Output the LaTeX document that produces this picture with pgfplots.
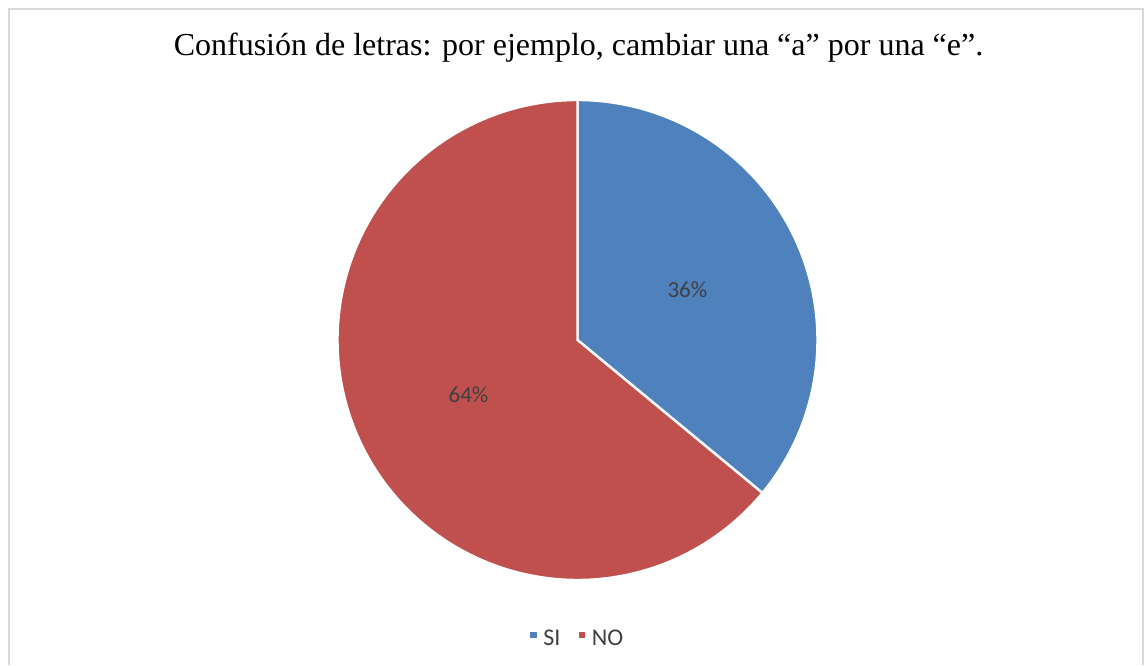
\documentclass[border=0pt]{standalone}
\usepackage{pgfplots}
\pgfplotsset{compat=1.18}
\usepackage{fontspec}
\setmainfont{Liberation Serif}
\newfontfamily\carlito{Carlito}
\definecolor{siblue}{HTML}{4F81BD}
\definecolor{nored}{HTML}{C0504D}
\definecolor{lbl}{HTML}{404040}
\definecolor{frame}{HTML}{D9D9D9}
\begin{document}
\begin{tikzpicture}[x=0.5pt,y=0.5pt]
\path[use as bounding box] (0,0) rectangle (1147,665);
\draw[frame, line width=0.8pt] (9,0) -- (9,656) -- (1143,656) -- (1143,0);
\node[font=\fontsize{16}{18}\selectfont, text=black] at (578.5,617) {Confusión de letras: por ejemplo, cambiar una “a” por una “e”.};
\begin{axis}[
  at={(288.75pt,162.5pt)}, anchor=center,
  x=120pt, y=120pt,
  xmin=-1.05, xmax=1.05, ymin=-1.05, ymax=1.05,
  hide axis, clip=false,
  legend columns=2,
  legend style={draw=none, fill=none, at={(0.5,-0.093)}, anchor=center,
    font=\carlito\fontsize{12}{14}\selectfont, text=lbl,
    /tikz/every even column/.append style={column sep=6pt}},
  legend image code/.code={\fill[#1] (0pt,-0.3pt) rectangle (4.5pt,4.2pt);},
]
% SI = 36 %, NO = 64 %
\addplot[fill=siblue, draw=white, line width=1.2pt, domain={90-36*3.6}:90, samples=120]
  ({cos(x)},{sin(x)}) -- (axis cs:0,0) -- cycle;
\addlegendentry{SI}
\addplot[fill=nored, draw=white, line width=1.2pt, domain=90:{90+64*3.6}, samples=200]
  ({cos(x)},{sin(x)}) -- (axis cs:0,0) -- cycle;
\addlegendentry{NO}
\node[font=\carlito\fontsize{11.5}{13}\selectfont, text=lbl] at (axis cs:0.458,0.208) {36\%};
\node[font=\carlito\fontsize{11.5}{13}\selectfont, text=lbl] at (axis cs:-0.454,-0.229) {64\%};
\end{axis}
\end{tikzpicture}
\end{document}
